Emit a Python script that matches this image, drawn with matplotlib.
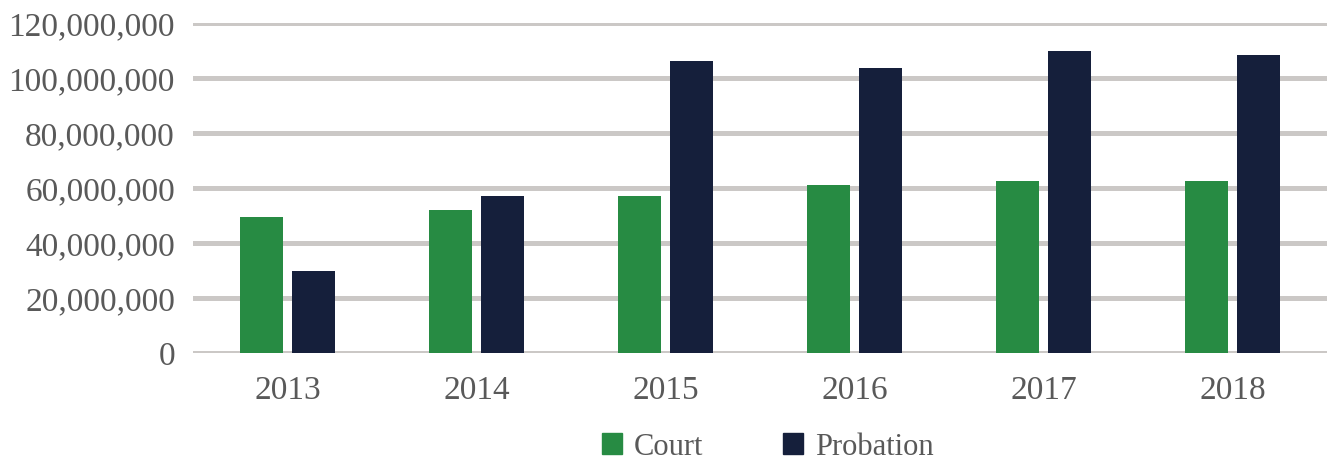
import matplotlib
matplotlib.use("Agg")
import matplotlib.pyplot as plt
import numpy as np
from matplotlib.ticker import FuncFormatter
from matplotlib.patches import Patch

years = ["2013", "2014", "2015", "2016", "2017", "2018"]
court = [49.6e6, 52.1e6, 57.2e6, 61.2e6, 62.7e6, 62.7e6]
probation = [29.9e6, 57.2e6, 106.3e6, 103.7e6, 109.9e6, 108.5e6]

green = "#278B43"
navy = "#151F3B"
grid_c = "#CBC8C6"
text_c = "#595959"

plt.rcParams["font.family"] = ["Liberation Serif", "DejaVu Serif"]

fig = plt.figure(figsize=(13.33, 4.61), dpi=100)
ax = fig.add_axes([193/1333, 1-353.3/461, (1327-193)/1333, 330/461])

x = np.arange(len(years))
w = 0.2275
off = 0.14
ax.bar(x - off, court, width=w, color=green, zorder=3, label="Court")
ax.bar(x + off, probation, width=w, color=navy, zorder=3, label="Probation")

ax.set_xlim(-0.5, len(years) - 0.5)
ax.set_ylim(0, 120e6)
ax.set_yticks(np.arange(0, 120e6 + 1, 20e6))
ax.yaxis.set_major_formatter(FuncFormatter(lambda v, p: f"{int(v):,}"))
ax.set_xticks(x)
ax.set_xticklabels(years)
ax.grid(axis="y", color=grid_c, linewidth=3.6, zorder=0)
ax.set_axisbelow(True)
for s in ["top", "right", "left", "bottom"]:
    ax.spines[s].set_visible(False)
ax.tick_params(axis="both", length=0, labelsize=24, colors=text_c)
ax.tick_params(axis="y", pad=13)
ax.tick_params(axis="x", pad=16)

handles = [Patch(color=green, label="Court"), Patch(color=navy, label="Probation")]
leg = fig.legend(handles=handles, loc="center", bbox_to_anchor=(0.576, 1-447/461), ncol=2,
                 frameon=False, fontsize=22, handlelength=0.66, handleheight=0.66,
                 handletextpad=0.4, columnspacing=2.6, borderpad=0)
for t in leg.get_texts():
    t.set_color(text_c)

fig.savefig("out.png", dpi=100)
